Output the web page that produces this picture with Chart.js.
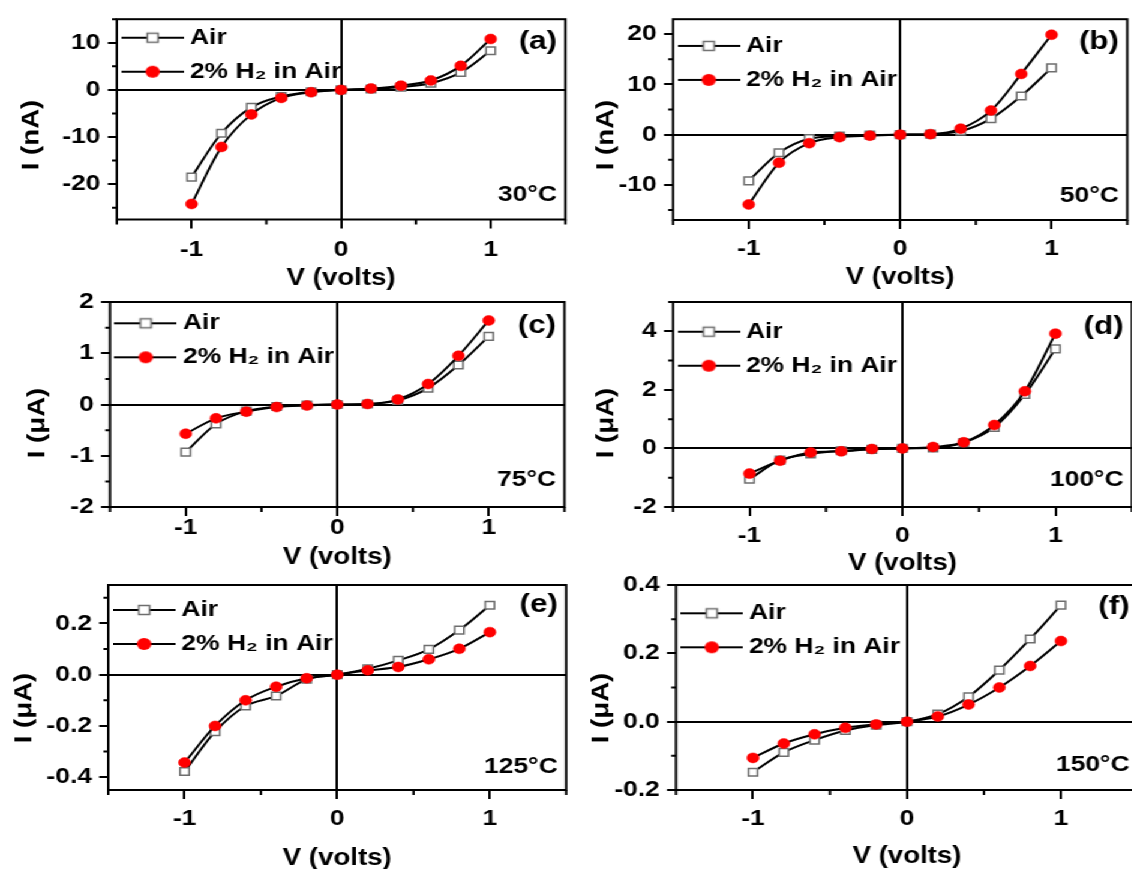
<!DOCTYPE html>
<html>
<head>
<meta charset="utf-8">
<title>I-V curves, Air vs 2% H2</title>
<script src="https://cdn.jsdelivr.net/npm/chart.js@4.4.0/dist/chart.umd.min.js"></script>
<style>
  html, body { margin: 0; padding: 0; background: #fff; overflow: hidden; }
  /* the original figure is stretched sideways, so the whole stage is too */
  #stage { position: absolute; left: 0; top: 0; width: 944px; height: 869px;
           transform: scaleX(1.2); transform-origin: 0 0; }
  .panel { position: absolute; }
  .panel canvas { display: block; }
</style>
</head>
<body>
<div id="stage"></div>
<script>
// ---- data ----
const voltage = [-1, -0.8, -0.6, -0.4, -0.2, 0, 0.2, 0.4, 0.6, 0.8, 1];
const xTicks = [-1.5, -1, -0.5, 0, 0.5, 1, 1.5];
const xLabels = [-1, 0, 1];
const seriesNames = ['Air', '2% H\u2082 in Air'];

// (a) 30 C, nA
const airA = [-18.5, -9.2, -3.7, -1.4, -0.4, 0, 0.2, 0.6, 1.4, 3.7, 8.3];
const h2A = [-24.2, -12.1, -5.2, -1.7, -0.5, 0, 0.3, 0.9, 2.0, 5.1, 10.8];
const yTicksA = [-25, -20, -15, -10, -5, 0, 5, 10, 15];
const yLabelsA = [-20, -10, 0, 10];

// (b) 50 C, nA
const airB = [-9.2, -3.6, -0.8, -0.3, -0.1, 0, 0.1, 0.7, 3.2, 7.7, 13.3];
const h2B = [-13.9, -5.6, -1.7, -0.5, -0.2, 0, 0.1, 1.2, 4.8, 12.1, 19.9];
const yTicksB = [-15, -10, -5, 0, 5, 10, 15, 20];
const yLabelsB = [-10, 0, 10, 20];

// (c) 75 C, uA
const airC = [-0.93, -0.38, -0.13, -0.04, -0.01, 0, 0.01, 0.08, 0.32, 0.77, 1.33];
const h2C = [-0.57, -0.27, -0.14, -0.05, -0.02, 0, 0.01, 0.1, 0.4, 0.95, 1.64];
const yTicksC = [-2, -1.5, -1, -0.5, 0, 0.5, 1, 1.5, 2];
const yLabelsC = [-2, -1, 0, 1, 2];

// (d) 100 C, uA
const airD = [-1.05, -0.4, -0.19, -0.08, -0.03, 0, 0.02, 0.2, 0.72, 1.84, 3.4];
const h2D = [-0.86, -0.42, -0.14, -0.1, -0.02, 0, 0.05, 0.21, 0.8, 1.95, 3.92];
const yTicksD = [-2, -1, 0, 1, 2, 3, 4, 5];
const yLabelsD = [-2, 0, 2, 4];

// (e) 125 C, uA
const airE = [-0.378, -0.222, -0.122, -0.083, -0.018, 0, 0.023, 0.056, 0.099, 0.174, 0.271];
const h2E = [-0.343, -0.2, -0.1, -0.047, -0.014, 0, 0.017, 0.03, 0.06, 0.101, 0.166];
const yTicksE = [-0.4, -0.3, -0.2, -0.1, 0, 0.1, 0.2, 0.3];
const yLabelsE = [-0.4, -0.2, 0, 0.2];

// (f) 150 C, uA
const airF = [-0.148, -0.09, -0.054, -0.026, -0.01, 0, 0.022, 0.073, 0.151, 0.242, 0.341];
const h2F = [-0.106, -0.064, -0.037, -0.018, -0.008, 0, 0.015, 0.05, 0.1, 0.163, 0.236];
const yTicksF = [-0.2, -0.1, 0, 0.1, 0.2, 0.3, 0.4];
const yLabelsF = [-0.2, 0, 0.2, 0.4];

// ---- layout ----
const S = 1.2;
const FONT = '"Liberation Sans", Arial, Helvetica, sans-serif';
const stage = document.getElementById('stage');

// frame positions are in page pixels, measured on the reference
const panels = [
  { tag: '(a)', temp: '30\u00B0C', unit: 'I (nA)', air: airA, h2: h2A, yMin: -27.5, yMax: 15, yTicks: yTicksA, yLabels: yLabelsA, dec: 0, col: 0,
    box: { l: 116.5, r: 567, t: 15, b: 219.5, xLab: 250, xTitle: 278, yTx: 32, yTy: 135, leg: 18.5, tagDy: 22.5, tempDy: 24.5 } },
  { tag: '(b)', temp: '50\u00B0C', unit: 'I (nA)', air: airB, h2: h2B, yMin: -17, yMax: 23, yTicks: yTicksB, yLabels: yLabelsB, dec: 0, col: 1,
    box: { l: 673, r: 1128.4, t: 15, b: 220, xLab: 249, xTitle: 277, yTx: 606, yTy: 135, leg: 26.7, tagDy: 22.7, tempDy: 24 } },
  { tag: '(c)', temp: '75\u00B0C', unit: 'I (\u03BCA)', air: airC, h2: h2C, yMin: -2, yMax: 2, yTicks: yTicksC, yLabels: yLabelsC, dec: 0, col: 0,
    box: { l: 110, r: 565.5, t: 302, b: 507, xLab: 527.5, xTitle: 557, yTx: 37, yTy: 423, leg: 21.3, tagDy: 24, tempDy: 27 } },
  { tag: '(d)', temp: '100\u00B0C', unit: 'I (\u03BCA)', air: airD, h2: h2D, yMin: -2, yMax: 5, yTicks: yTicksD, yLabels: yLabelsD, dec: 0, col: 1,
    box: { l: 673, r: 1133, t: 302, b: 507, xLab: 536, xTitle: 563, yTx: 606, yTy: 423, leg: 29.7, tagDy: 25, tempDy: 27 } },
  { tag: '(e)', temp: '125\u00B0C', unit: 'I (\u03BCA)', air: airE, h2: h2E, yMin: -0.45, yMax: 0.35, yTicks: yTicksE, yLabels: yLabelsE, dec: 1, col: 0,
    box: { l: 108, r: 566, t: 585, b: 790, xLab: 818.5, xTitle: 858, yTx: 24, yTy: 708, leg: 25, tagDy: 20, tempDy: 23 } },
  { tag: '(f)', temp: '150\u00B0C', unit: 'I (\u03BCA)', air: airF, h2: h2F, yMin: -0.2, yMax: 0.4, yTicks: yTicksF, yLabels: yLabelsF, dec: 1, col: 1,
    box: { l: 676, r: 1139, t: 585, b: 790, xLab: 819, xTitle: 856, yTx: 601, yTy: 708, leg: 28.3, tagDy: 22, tempDy: 25 } }
];

function isMajor(list, v) {
  return list.some(m => Math.abs(m - v) < 1e-9);
}

// little line + marker pictures for the legend
function legendIcon(kind) {
  const c = document.createElement('canvas');
  c.width = 52; c.height = 16;
  const g = c.getContext('2d');
  g.strokeStyle = '#000'; g.lineWidth = 2;
  g.beginPath(); g.moveTo(0, 8); g.lineTo(52, 8); g.stroke();
  if (kind === 'rect') {
    g.fillStyle = '#fff'; g.fillRect(21.5, 3.5, 9, 9);
    g.strokeStyle = '#6e6e6e'; g.lineWidth = 1.5; g.strokeRect(21.5, 3.5, 9, 9);
  } else {
    g.fillStyle = '#ff0000';
    g.beginPath(); g.arc(26, 8, 6, 0, Math.PI * 2); g.fill();
  }
  return c;
}
const legendIcons = [legendIcon('rect'), legendIcon('circle')];

const LEG_PAD = 12;

const panelDeco = {
  id: 'panelDeco',
  afterLayout(chart, args, o) {
    // put the legend in the upper left corner of the plot
    const lg = chart.legend, a = chart.chartArea;
    if (!lg) return;
    const w = lg.width, h = lg.height;
    lg.left = a.left + 9.8 - LEG_PAD;
    lg.top = a.top + o.p.box.leg - LEG_PAD - 11;
    lg.right = lg.left + w; lg.bottom = lg.top + h;
  },
  afterDraw(chart, args, o) {
    const { ctx, chartArea: a } = chart;
    const p = o.p, f = p.box;
    const xs = chart.scales.x, ys = chart.scales.y;
    ctx.save();
    ctx.strokeStyle = '#000';
    ctx.lineWidth = 2;
    ctx.strokeRect(a.left, a.top, a.right - a.left, a.bottom - a.top);

    // minor ticks
    ctx.beginPath();
    xTicks.forEach(v => {
      if (isMajor(xLabels, v)) return;
      const px = xs.getPixelForValue(v);
      ctx.moveTo(px, a.bottom); ctx.lineTo(px, a.bottom + 5);
    });
    p.yTicks.forEach(v => {
      if (isMajor(p.yLabels, v)) return;
      const py = ys.getPixelForValue(v);
      ctx.moveTo(a.left - 4, py); ctx.lineTo(a.left, py);
    });
    ctx.stroke();

    ctx.fillStyle = '#000';
    ctx.textAlign = 'right';
    ctx.textBaseline = 'middle';
    ctx.font = 'bold 26px ' + FONT;
    ctx.fillText(p.tag, a.right - 7, a.top + f.tagDy);
    ctx.font = 'bold 22px ' + FONT;
    ctx.fillText(p.temp, a.right - 7, a.bottom - f.tempDy);

    // y axis title, set a bit below the middle like the original,
    // and drawn longer and thinner as it is there
    ctx.translate(f.yTx / S - o.left, f.yTy - o.top);
    ctx.rotate(-Math.PI / 2);
    ctx.scale(1.2, 0.9);
    ctx.textAlign = 'center';
    ctx.font = 'bold 23px ' + FONT;
    ctx.fillText(p.unit, 0, 0);
    ctx.restore();
  }
};

function makePanel(p) {
  const f = p.box;
  const left = p.col === 0 ? 0 : 480;
  const top = f.t - 20 < 0 ? 0 : f.t - 20;
  const bottom = f.xTitle + 14;
  const right = f.r / S + 6;

  const div = document.createElement('div');
  div.className = 'panel';
  div.style.left = left + 'px';
  div.style.top = top + 'px';
  div.style.width = (right - left) + 'px';
  div.style.height = (bottom - top) + 'px';
  const canvas = document.createElement('canvas');
  div.appendChild(canvas);
  stage.appendChild(div);

  const tickFont = { family: FONT, size: 22, weight: 'bold' };

  new Chart(canvas, {
    type: 'line',
    data: {
      datasets: [
        {
          label: seriesNames[0],
          data: voltage.map((v, i) => ({ x: v, y: p.air[i] })),
          borderColor: '#000', borderWidth: 2,
          pointStyle: 'rect', pointRadius: 5.4,
          pointBackgroundColor: '#fff', pointBorderColor: '#6e6e6e', pointBorderWidth: 1.5,
          cubicInterpolationMode: 'monotone', order: 1
        },
        {
          label: seriesNames[1],
          data: voltage.map((v, i) => ({ x: v, y: p.h2[i] })),
          borderColor: '#000', borderWidth: 2,
          pointStyle: 'circle', pointRadius: 5,
          pointBackgroundColor: '#ff0000', pointBorderColor: '#ff0000', pointBorderWidth: 0.5,
          cubicInterpolationMode: 'monotone', order: 0
        }
      ]
    },
    options: {
      responsive: true,
      maintainAspectRatio: false,
      animation: false,
      events: [],
      layout: { padding: { left: 0, top: f.t - top, right: right - f.r / S, bottom: 0 } },
      scales: {
        x: {
          type: 'linear', min: -1.5, max: 1.5,
          afterBuildTicks: s => { s.ticks = xTicks.map(v => ({ value: v })); },
          afterFit: s => { s.height = bottom - f.b; },
          border: { display: false },
          grid: {
            tickLength: 9, lineWidth: 2, tickWidth: 2,
            color: c => (c.tick && c.tick.value === 0 ? '#000' : 'rgba(0,0,0,0)'),
            tickColor: c => (c.tick && isMajor(xLabels, c.tick.value) ? '#000' : 'rgba(0,0,0,0)')
          },
          ticks: {
            autoSkip: false, maxRotation: 0, color: '#000', font: tickFont,
            padding: f.xLab - f.b - 9 - 13.2,
            callback: v => (isMajor(xLabels, v) ? String(v) : '')
          },
          title: {
            display: true, text: 'V (volts)', color: '#000', padding: 0,
            font: { family: FONT, size: 23, weight: 'bold' }
          }
        },
        y: {
          type: 'linear', min: p.yMin, max: p.yMax,
          afterBuildTicks: s => { s.ticks = p.yTicks.map(v => ({ value: v })); },
          afterFit: s => { s.width = f.l / S - left; },
          border: { display: false },
          grid: {
            tickLength: 7.5, lineWidth: 2, tickWidth: 2,
            color: c => (c.tick && c.tick.value === 0 ? '#000' : 'rgba(0,0,0,0)'),
            tickColor: c => (c.tick && isMajor(p.yLabels, c.tick.value) ? '#000' : 'rgba(0,0,0,0)')
          },
          ticks: {
            autoSkip: false, color: '#000', font: tickFont, padding: 6,
            callback: v => (isMajor(p.yLabels, v) ? Number(v).toFixed(p.dec) : '')
          }
        }
      },
      plugins: {
        tooltip: { enabled: false },
        legend: {
          position: 'chartArea', align: 'start', fullSize: false,
          labels: {
            usePointStyle: true, pointStyleWidth: 40, padding: LEG_PAD,
            color: '#000', font: { family: FONT, size: 22, weight: 'bold' },
            generateLabels: chart => chart.data.datasets.map((d, i) => ({
              text: d.label, pointStyle: legendIcons[i], datasetIndex: i,
              hidden: false, fillStyle: 'rgba(0,0,0,0)', strokeStyle: 'rgba(0,0,0,0)',
              lineWidth: 0, fontColor: '#000'
            }))
          }
        },
        panelDeco: { p: p, left: left, top: top }
      }
    },
    plugins: [panelDeco]
  });
}

panels.forEach(makePanel);
</script>
</body>
</html>
